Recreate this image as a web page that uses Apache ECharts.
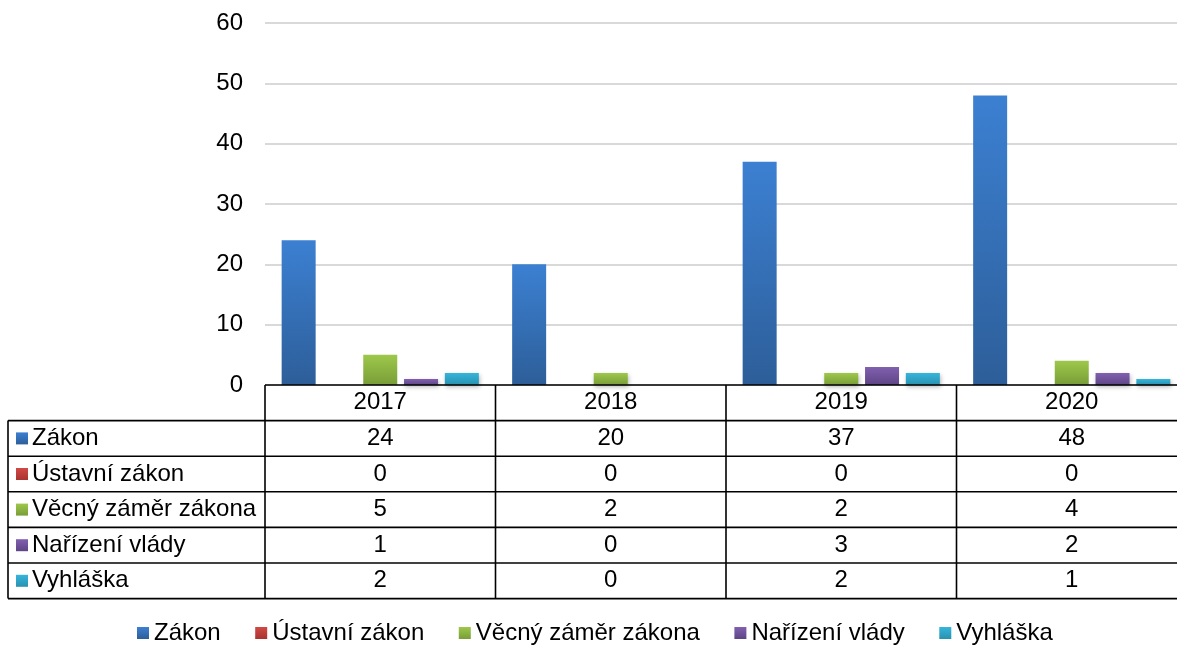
<!DOCTYPE html>
<html>
<head>
<meta charset="utf-8">
<script src="https://cdn.jsdelivr.net/npm/echarts@6/dist/echarts.min.js"></script>
<style>
  html, body { margin: 0; padding: 0; background: #fff; }
  #chart { width: 1177px; height: 645px; }
</style>
</head>
<body>
<div id="chart"></div>
<script>
// kategorie (roky)
const years = ["2017", "2018", "2019", "2020"];
// názvy řad
const seriesNames = ["Zákon", "Ústavní zákon", "Věcný záměr zákona", "Nařízení vlády", "Vyhláška"];
// hodnoty jednotlivých řad
const zakon = [24, 20, 37, 48];
const ustavniZakon = [0, 0, 0, 0];
const vecnyZamer = [5, 2, 2, 4];
const narizeniVlady = [1, 0, 3, 2];
const vyhlaska = [2, 0, 2, 1];
const seriesValues = [zakon, ustavniZakon, vecnyZamer, narizeniVlady, vyhlaska];

// barvy (horní / spodní část přechodu)
const colors = [
  ["#3c80d2", "#2d5e99"],
  ["#d04a45", "#a93330"],
  ["#9dc84b", "#799d38"],
  ["#8160b0", "#5e4586"],
  ["#36b5db", "#2892b0"],
];

const FONT = "'Liberation Sans', Arial, sans-serif";
const FS = 24;

const gridLeft = 265;
const gridTop = 23;
const axisY = 385;
const gridWidth = 922;
const rowH = 35.6;
const tableLeft = 8;

function grad(c) {
  return {
    type: "linear", x: 0, y: 0, x2: 0, y2: 1,
    colorStops: [{ offset: 0, color: c[0] }, { offset: 1, color: c[1] }],
  };
}

const chart = echarts.init(document.getElementById("chart"));

const series = seriesNames.map((name, i) => ({
  name: name,
  type: "bar",
  data: seriesValues[i],
  barWidth: 34,
  barGap: "20%",
  itemStyle: {
    color: grad(colors[i]),
    shadowColor: "rgba(0,0,0,0.28)",
    shadowBlur: 4,
    shadowOffsetX: 1,
    shadowOffsetY: 2,
  },
}));

chart.setOption({
  animation: false,
  textStyle: { fontFamily: FONT },
  grid: {
    left: gridLeft,
    top: gridTop,
    right: 1177 - gridLeft - gridWidth,
    height: axisY - gridTop,
    containLabel: false,
    outerBoundsMode: "none",
  },
  legend: {
    left: 132,
    top: 616,
    itemWidth: 12,
    itemHeight: 12,
    itemGap: 34.5,
    icon: "rect",
    textStyle: { fontSize: FS, color: "#000", fontFamily: FONT },
    data: seriesNames,
  },
  xAxis: {
    type: "category",
    data: years,
    axisLine: { show: false },
    axisTick: { show: false },
    axisLabel: { show: false },
  },
  yAxis: {
    type: "value",
    min: 0,
    max: 60,
    interval: 10,
    axisLine: { show: false },
    axisTick: { show: false },
    axisLabel: { fontSize: FS, color: "#000", margin: 22, fontFamily: FONT },
    splitLine: { lineStyle: { color: "#d9d9d9", width: 2 } },
  },
  series: series,
});

// tabulka dat pod grafem
const elements = [];
const rightEdge = 1177;
const nRows = seriesNames.length;
const tableBottom = axisY + rowH * (nRows + 1);
const lineStyle = { stroke: "#000", lineWidth: 1.6 };

// vodorovné čáry
elements.push({ type: "line", shape: { x1: gridLeft, y1: axisY, x2: rightEdge, y2: axisY }, style: lineStyle, z: 10 });
for (let r = 1; r <= nRows + 1; r++) {
  const y = axisY + rowH * r;
  elements.push({ type: "line", shape: { x1: tableLeft, y1: y, x2: rightEdge, y2: y }, style: lineStyle, z: 10 });
}
// svislé čáry
elements.push({ type: "line", shape: { x1: tableLeft, y1: axisY + rowH, x2: tableLeft, y2: tableBottom }, style: lineStyle, z: 10 });
const colW = gridWidth / years.length;
for (let c = 0; c < years.length; c++) {
  const x = gridLeft + colW * c;
  elements.push({ type: "line", shape: { x1: x, y1: axisY, x2: x, y2: tableBottom }, style: lineStyle, z: 10 });
}

// záhlaví s roky
years.forEach((yr, c) => {
  const cx = chart.convertToPixel({ xAxisIndex: 0 }, yr);
  elements.push({
    type: "text", x: cx, y: axisY + rowH / 2,
    style: { text: yr, fontSize: FS, fontFamily: FONT, fill: "#000", align: "center", verticalAlign: "middle" },
    z: 11,
  });
});

// řádky s hodnotami
seriesNames.forEach((name, r) => {
  const cy = axisY + rowH * (r + 1.5);
  elements.push({
    type: "rect", shape: { x: 16, y: cy - 6, width: 12, height: 12 },
    style: { fill: grad(colors[r]) }, z: 11,
  });
  elements.push({
    type: "text", x: 32, y: cy,
    style: { text: name, fontSize: FS, fontFamily: FONT, fill: "#000", align: "left", verticalAlign: "middle" },
    z: 11,
  });
  seriesValues[r].forEach((v, c) => {
    const cx = chart.convertToPixel({ xAxisIndex: 0 }, years[c]);
    elements.push({
      type: "text", x: cx, y: cy,
      style: { text: String(v), fontSize: FS, fontFamily: FONT, fill: "#000", align: "center", verticalAlign: "middle" },
      z: 11,
    });
  });
});

chart.setOption({ graphic: { elements: elements } });
</script>
</body>
</html>
